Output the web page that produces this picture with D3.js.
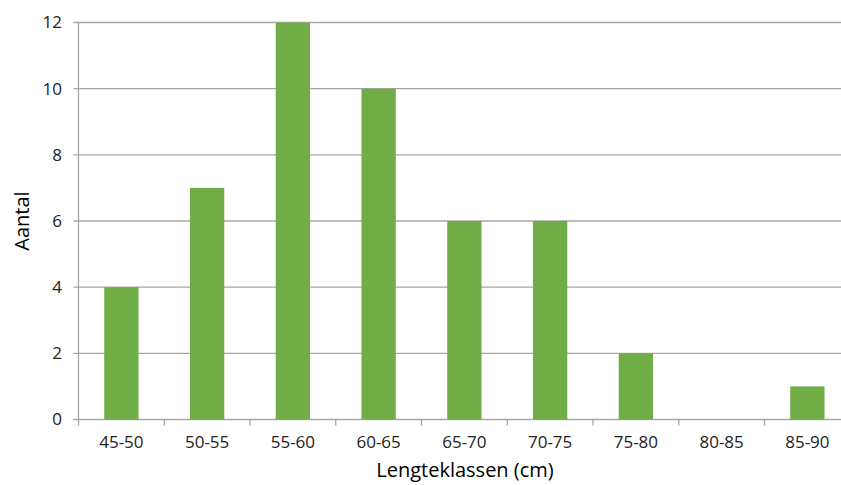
<!DOCTYPE html>
<html>
<head>
<meta charset="utf-8">
<script src="https://cdn.jsdelivr.net/npm/d3@7"></script>
<style>
  body { margin: 0; background: #fff; }
  svg { display: block; font-family: "Open Sans", "Noto Sans", sans-serif; }
</style>
</head>
<body>
<div id="chart"></div>
<script>
// length classes and counts
const categories = ['45-50', '50-55', '55-60', '60-65', '65-70', '70-75', '75-80', '80-85', '85-90'];
const counts = [4, 7, 12, 10, 6, 6, 2, 0, 1];
const yTicks = [0, 2, 4, 6, 8, 10, 12];

const width = 841, height = 485;
const margin = { top: 22.5, left: 78.5, bottom: 65.5 };
const step = 85.75;

const svg = d3.select('#chart').append('svg')
    .attr('width', width)
    .attr('height', height);

const x = d3.scaleBand()
    .domain(categories)
    .range([margin.left, margin.left + step * categories.length])
    .padding(0);

const y = d3.scaleLinear()
    .domain([0, 12])
    .range([height - margin.bottom, margin.top]);

// gridlines
svg.append('g')
    .selectAll('line')
    .data(yTicks)
    .join('line')
    .attr('x1', margin.left - 5)
    .attr('x2', width)
    .attr('y1', d => y(d))
    .attr('y2', d => y(d))
    .attr('stroke', '#a6a6a6')
    .attr('stroke-width', 1.3);

// y axis line
svg.append('line')
    .attr('x1', margin.left).attr('x2', margin.left)
    .attr('y1', y(12)).attr('y2', y(0))
    .attr('stroke', '#a6a6a6')
    .attr('stroke-width', 1.3);

// x ticks
svg.append('g')
    .selectAll('line')
    .data(categories.map(c => x(c)))
    .join('line')
    .attr('x1', d => d).attr('x2', d => d)
    .attr('y1', y(0)).attr('y2', y(0) + 6)
    .attr('stroke', '#a6a6a6')
    .attr('stroke-width', 1.3);

// bars
const barW = x.bandwidth() * 0.4;
svg.append('g')
    .selectAll('rect')
    .data(counts)
    .join('rect')
    .attr('x', (d, i) => x(categories[i]) + (x.bandwidth() - barW) / 2)
    .attr('y', d => y(d))
    .attr('width', barW)
    .attr('height', d => y(0) - y(d))
    .attr('fill', '#70ad47');

// y tick labels
svg.append('g')
    .selectAll('text')
    .data(yTicks)
    .join('text')
    .attr('x', 62)
    .attr('y', d => y(d))
    .attr('dy', '0.35em')
    .attr('text-anchor', 'end')
    .style('font-size', '17px')
    .style('fill', '#222')
    .text(d => d);

// x tick labels
svg.append('g')
    .selectAll('text')
    .data(categories)
    .join('text')
    .attr('x', d => x(d) + x.bandwidth() / 2)
    .attr('y', 448)
    .attr('text-anchor', 'middle')
    .style('font-size', '17px')
    .style('fill', '#222')
    .text(d => d);

// axis titles
svg.append('text')
    .attr('transform', `translate(29,${(y(0) + y(12)) / 2}) rotate(-90)`)
    .attr('text-anchor', 'middle')
    .style('font-size', '20px')
    .style('fill', '#000')
    .text('Aantal');

svg.append('text')
    .attr('x', 465)
    .attr('y', 477)
    .attr('text-anchor', 'middle')
    .style('font-size', '20px')
    .style('fill', '#000')
    .text('Lengteklassen (cm)');
</script>
</body>
</html>
